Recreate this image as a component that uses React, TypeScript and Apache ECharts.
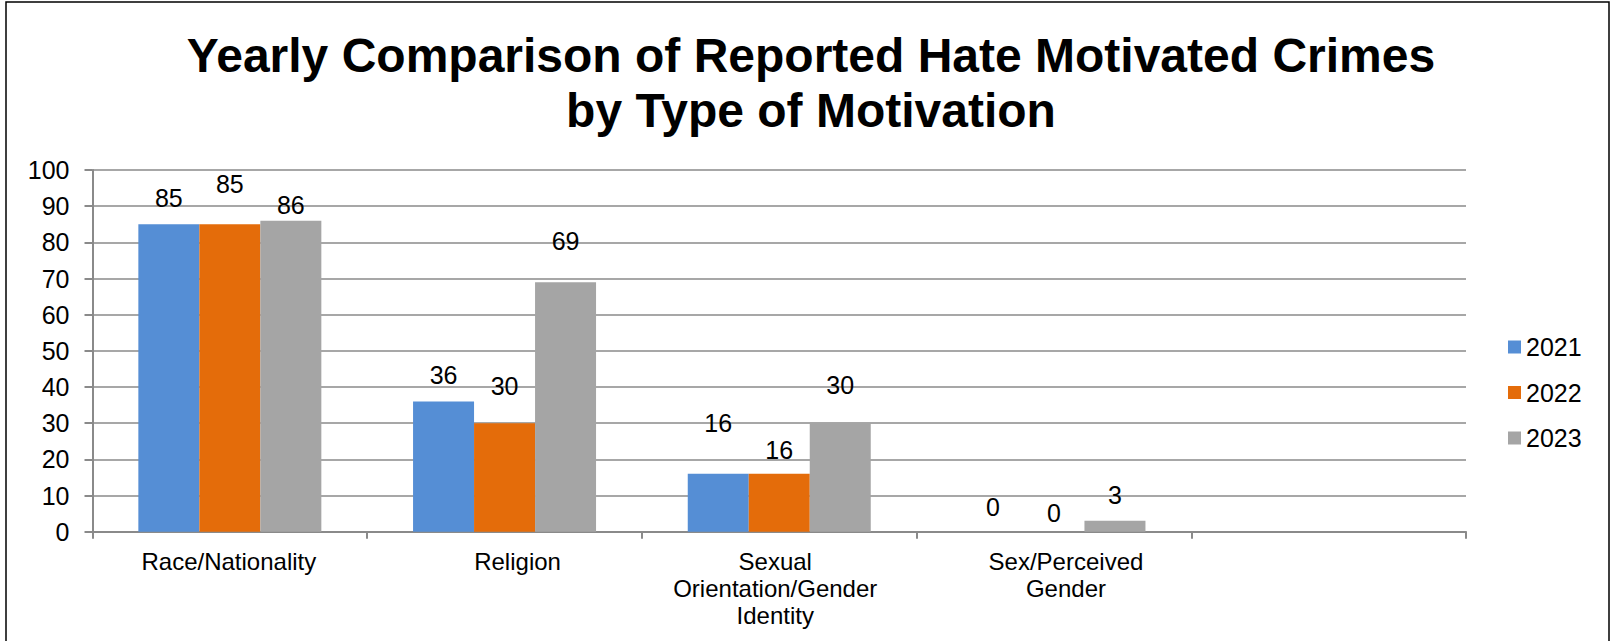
import React, { useEffect, useRef } from "react";
import * as echarts from "echarts";

const titleText = "Yearly Comparison of Reported Hate Motivated Crimes\nby Type of Motivation";
const categories = [
  "Race/Nationality",
  "Religion",
  "Sexual\nOrientation/Gender\nIdentity",
  "Sex/Perceived\nGender",
  "",
];
const years = ["2021", "2022", "2023"];
const values2021 = [85, 36, 16, 0];
const values2022 = [85, 30, 16, 0];
const values2023 = [86, 69, 30, 3];
const yMin = 0;
const yMax = 100;
const yStep = 10;

// styling (label placement as in the original)
const colors = ["#558ED5", "#E46C0A", "#A5A5A5"];
const labelLift2021 = [26.7, 26, 51, 24.7];
const labelLift2022 = [40.3, 37, 24.3, 19.2];
const labelLift2023 = [16, 41, 38.4, 26.1];
const catLabelShift = [-1, 13, -4, 12, 0];

const FONT = "'Liberation Sans', Arial, sans-serif";

export default function App() {
  const ref = useRef<HTMLDivElement>(null);
  useEffect(() => {
    if (!ref.current) return;
    const chart = echarts.init(ref.current, null, { renderer: "svg" });
    const seriesValues = [values2021, values2022, values2023];
    const lifts = [labelLift2021, labelLift2022, labelLift2023];
    const catData = categories.map((c, i) => {
      const s = catLabelShift[i];
      return {
        value: c,
        textStyle: {
          padding: s >= 0 ? [0, 0, 0, 2 * s] : [0, -2 * s, 0, 0],
        },
      };
    });
    chart.setOption({
      animation: false,
      backgroundColor: "#ffffff",
      textStyle: { fontFamily: FONT },
      title: {
        text: titleText,
        left: 811,
        top: 28,
        textAlign: "center",
        padding: 0,
        textStyle: {
          fontFamily: FONT,
          fontSize: 48,
          fontWeight: "bold",
          lineHeight: 55,
          color: "#000",
        },
      },
      graphic: [
        {
          type: "rect",
          shape: { x: 6, y: 2, width: 1603, height: 700 },
          style: { fill: "none", stroke: "#000", lineWidth: 1.5 },
          silent: true,
        },
      ],
      legend: {
        orient: "vertical",
        left: 1508,
        top: 334,
        itemWidth: 13,
        itemHeight: 13,
        itemGap: 19.5,
        icon: "rect",
        padding: 0,
        data: years,
        textStyle: {
          fontFamily: FONT,
          fontSize: 25,
          lineHeight: 26,
          color: "#000",
          padding: [0, 0, 0, 0],
        },
      },
      grid: {
        left: 92.5,
        right: 146,
        top: 170,
        bottom: 109.3,
        containLabel: false,
      },
      xAxis: {
        type: "category",
        data: catData,
        boundaryGap: true,
        axisLine: { show: true, lineStyle: { color: "#8A8A8A", width: 2 } },
        axisTick: {
          show: true,
          interval: 0,
          length: 7,
          lineStyle: { color: "#8A8A8A", width: 2 },
        },
        axisLabel: {
          interval: 0,
          margin: 16,
          fontFamily: FONT,
          fontSize: 24,
          lineHeight: 27,
          color: "#000",
          align: "center",
        },
        splitLine: { show: false },
      },
      yAxis: {
        type: "value",
        min: yMin,
        max: yMax,
        interval: yStep,
        axisLine: { show: true, lineStyle: { color: "#8A8A8A", width: 2 } },
        axisTick: {
          show: true,
          length: 8,
          lineStyle: { color: "#8A8A8A", width: 2 },
        },
        axisLabel: {
          margin: 23,
          fontFamily: FONT,
          fontSize: 25,
          color: "#000",
        },
        splitLine: { show: true, lineStyle: { color: "#8A8A8A", width: 1.5 } },
      },
      series: years.map((y, si) => ({
        name: y,
        type: "bar",
        barWidth: 61,
        barGap: "0%",
        itemStyle: { color: colors[si] },
        label: {
          show: true,
          position: "top",
          distance: 0,
          fontFamily: FONT,
          fontSize: 25,
          lineHeight: 25,
          color: "#000",
        },
        data: seriesValues[si].map((v, i) => ({
          value: v,
          label: { offset: [0, -(lifts[si][i] - 12.5)] },
        })),
      })),
    });
    return () => chart.dispose();
  }, []);
  return (
    <div
      ref={ref}
      style={{
        position: "fixed",
        left: 0,
        top: 0,
        width: 1612,
        height: 641,
        background: "#fff",
      }}
    />
  );
}
